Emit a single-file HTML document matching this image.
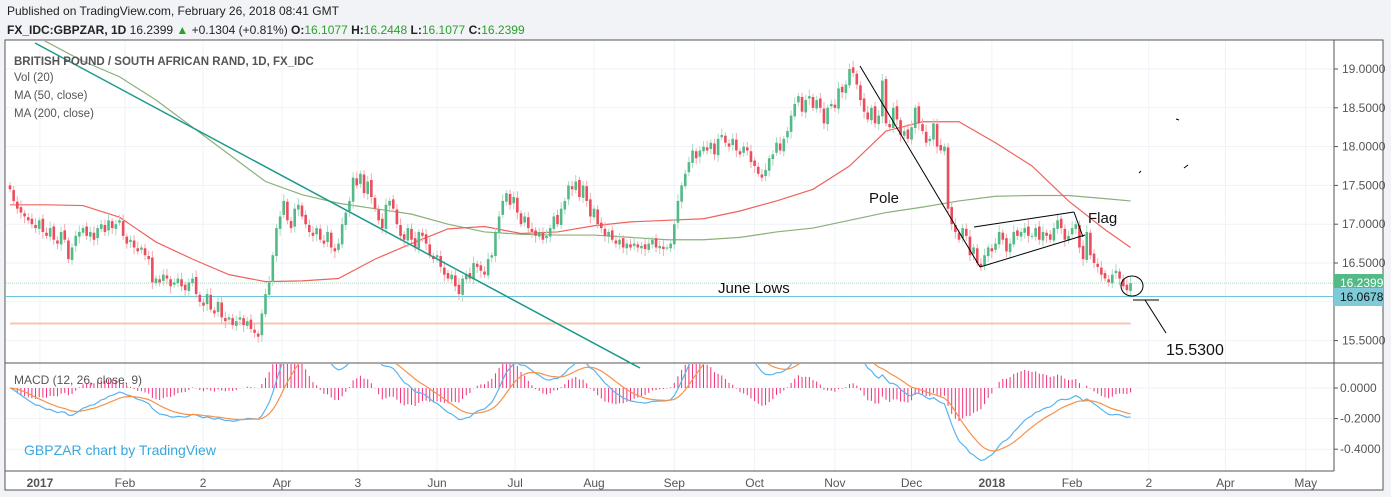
<!DOCTYPE html>
<html><head><meta charset="utf-8"><style>
body{margin:0;width:1391px;height:497px;background:#f1f3f6;font-family:"Liberation Sans",sans-serif;overflow:hidden}
#hdr1{position:absolute;left:7px;top:4px;font-size:12px;color:#222}
#hdr2{position:absolute;left:7px;top:23px;font-size:12px;color:#222}
#hdr2 b{font-weight:bold}.g{color:#2ba02b}
svg{position:absolute;left:0;top:0}
</style></head><body>
<div id="hdr1">Published on TradingView.com, February 26, 2018 08:41 GMT</div>
<div id="hdr2"><b>FX_IDC:GBPZAR, 1D</b> 16.2399 <span class="g">▲</span> +0.1304 (+0.81%) <b>O:</b><span class="g">16.1077</span> <b>H:</b><span class="g">16.2448</span> <b>L:</b><span class="g">16.1077</span> <b>C:</b><span class="g">16.2399</span></div>
<svg id="chart" width="1391" height="497"></svg>
<script>
const closes=[
17.45,17.3,17.2,17.15,17.1,17.05,17.0,16.95,17.05,16.9,
16.85,16.95,16.8,16.75,16.9,16.8,16.55,16.7,16.85,16.9,
16.95,16.85,16.9,16.8,16.95,17.0,16.9,17.05,16.95,17.0,
17.05,16.85,16.75,16.8,16.7,16.65,16.7,16.6,16.55,16.25,
16.3,16.25,16.35,16.3,16.2,16.25,16.3,16.2,16.15,16.25,
16.3,16.1,16.0,15.95,16.1,15.9,15.85,16.0,15.8,15.75,
15.8,15.7,15.75,15.8,15.7,15.75,15.65,15.6,15.55,15.85,
16.1,16.25,16.6,16.95,17.1,17.3,17.05,16.95,17.2,17.25,
17.1,17.0,16.9,16.85,16.95,16.8,16.75,16.9,16.7,16.65,
16.75,17.0,17.15,17.3,17.6,17.5,17.65,17.4,17.55,17.35,
17.2,17.05,16.95,17.25,17.3,17.2,17.0,16.85,16.8,16.95,
16.8,16.7,16.9,16.85,16.75,16.6,16.55,16.6,16.45,16.35,
16.3,16.35,16.2,16.1,16.3,16.35,16.3,16.5,16.45,16.4,
16.35,16.55,16.6,16.9,17.1,17.3,17.4,17.25,17.35,17.15,
17.0,17.1,16.95,16.9,16.85,16.9,16.8,16.85,16.95,17.1,
17.0,17.2,17.3,17.5,17.45,17.55,17.35,17.5,17.3,17.1,
17.2,17.0,16.95,16.85,16.9,16.8,16.75,16.8,16.7,16.75,
16.7,16.75,16.7,16.72,16.68,16.75,16.8,16.7,16.72,16.68,
16.7,16.75,17.0,17.3,17.5,17.65,17.8,17.95,17.85,17.95,
18.0,17.95,18.05,17.9,18.1,18.15,18.05,18.0,18.1,17.95,
17.9,18.0,17.95,17.8,17.75,17.65,17.6,17.7,17.85,17.9,
18.05,17.95,18.1,18.2,18.4,18.55,18.65,18.45,18.6,18.65,
18.5,18.6,18.5,18.3,18.5,18.55,18.5,18.75,18.7,18.8,
19.0,18.95,18.8,18.6,18.45,18.35,18.5,18.3,18.4,18.85,
18.3,18.25,18.5,18.35,18.15,18.2,18.1,18.25,18.5,18.3,
18.2,18.05,18.1,18.3,18.0,17.95,18.0,17.2,17.0,16.9,
16.8,16.95,16.85,16.6,16.7,16.5,16.45,16.6,16.7,16.65,
16.75,16.9,16.8,16.65,16.75,16.9,16.85,16.9,16.95,16.85,
16.85,16.95,16.8,16.9,16.85,16.8,16.95,17.05,16.95,16.8,
16.85,16.95,17.0,16.7,16.55,16.9,16.6,16.5,16.45,16.35,
16.3,16.25,16.35,16.4,16.3,16.2,16.15,16.24];
const ma50=[17.25,17.25,17.24,17.09,16.77,16.55,16.35,16.26,16.27,16.3,16.55,16.75,16.94,16.97,16.88,16.9,16.98,17.03,17.05,17.07,17.17,17.3,17.45,17.75,18.2,18.32,18.32,18.05,17.75,17.3,16.93,16.7];
const ma200=[19.6,19.35,19.1,18.9,18.6,18.25,17.9,17.55,17.38,17.27,17.2,17.13,17.0,16.9,16.87,16.86,16.86,16.83,16.8,16.8,16.83,16.9,16.95,17.05,17.15,17.22,17.3,17.36,17.37,17.37,17.33,17.3];
const priceTicks=[19.0,18.5,18.0,17.5,17.0,16.5,15.5];
const macdTicks=[0,-0.2,-0.4];
const monthLabels=["2017","Feb","2","Apr","3","Jun","Jul","Aug","Sep","Oct","Nov","Dec","2018","Feb","2","Apr","May"];
const monthDays=[8.2,31.5,52.9,74.5,95.3,117,138.4,160,182,204,226,247,269,291,312,333,355];
const lastPrice=16.2399, lowPrice=16.0678, targetPrice=15.53;

const NS="http://www.w3.org/2000/svg",svg=document.getElementById('chart');
const X=i=>10+i*3.65;
const Y=p=>69+(19-p)*77.6;
const YM=v=>388-v*153;
function el(t,a,p){const e=document.createElementNS(NS,t);for(const k in a)e.setAttribute(k,a[k]);(p||svg).appendChild(e);return e;}
el('rect',{x:5,y:40,width:1378,height:450,fill:'#fff',stroke:'#555'});
const clipP=el('clipPath',{id:'cp'});el('rect',{x:6,y:41,width:1328,height:322},clipP);
const clipM=el('clipPath',{id:'cm'});el('rect',{x:6,y:364,width:1328,height:107},clipM);
monthDays.forEach((d,k)=>{const g=el('line',{x1:X(d),x2:X(d),y1:41,y2:471,stroke:'#eef3f8'});

const t=el('text',{x:X(d),y:487,'font-size':12,fill:'#555','text-anchor':'middle','font-weight':(k==0||k==12)?'bold':'normal'});t.textContent=monthLabels[k];
});
priceTicks.concat([16.0]).forEach(p=>el('line',{x1:6,x2:1334,y1:Y(p),y2:Y(p),stroke:'#eef3f8'}));
macdTicks.forEach(v=>el('line',{x1:6,x2:1334,y1:YM(v),y2:YM(v),stroke:'#eef3f8'}));
priceTicks.forEach(p=>{el('line',{x1:1334,x2:1338,y1:Y(p),y2:Y(p),stroke:'#555'});const t=el('text',{x:1342,y:Y(p)+4,'font-size':12,fill:'#555'});t.textContent=p.toFixed(4);
});
macdTicks.forEach(v=>{el('line',{x1:1334,x2:1338,y1:YM(v),y2:YM(v),stroke:'#555'});const t=el('text',{x:1340,y:YM(v)+4,'font-size':12,fill:'#555'});t.textContent=v.toFixed(4);
});
el('line',{x1:1334,x2:1334,y1:40,y2:471,stroke:'#555'});
el('line',{x1:5,x2:1383,y1:363,y2:363,stroke:'#555'});
el('line',{x1:5,x2:1334,y1:471,y2:471,stroke:'#555'});
const gp=el('g',{'clip-path':'url(#cp)'});
el('line',{x1:6,x2:1334,y1:Y(lastPrice),y2:Y(lastPrice),stroke:'#9fd9b8','stroke-dasharray':'1,1'},gp);
const jl=el('line',{x1:6,x2:1334,y1:Y(lowPrice),y2:Y(lowPrice),stroke:'#6cc6dc','stroke-width':1},gp);

el('line',{x1:10,x2:X(closes.length-1),y1:Y(15.72),y2:Y(15.72),stroke:'#f8c6b0','stroke-width':2},gp);
function maPath(arr,col,name){let d='';arr.forEach((v,k)=>{const i=Math.min(k*10,closes.length-1);d+=(k?'L':'M')+X(i)+','+Y(v);});
const p=el('path',{d:d,fill:'none',stroke:col,'stroke-width':1.2},gp);}
maPath(ma200,'#8bb07a','ma-200-line');maPath(ma50,'#f0625d','ma-50-line');
closes.forEach((c,i)=>{const o=i?closes[i-1]+(i%3==0?0.02:-0.01):c+0.05;
const up=c>=o,hi=Math.max(o,c)+0.04+(i%4)*0.015,lo=Math.min(o,c)-0.04-(i%5)*0.012;
const col=up?'#53b987':'#eb4d5c',wc=up?'#a9dcc3':'#f5a6ae';
const w=el('line',{x1:X(i),x2:X(i),y1:Y(hi),y2:Y(lo),stroke:wc},gp);

const b=el('rect',{x:X(i)-1.3,y:Y(Math.max(o,c)),width:2.6,height:Math.max(1,Math.abs(Y(o)-Y(c))),fill:col},gp);
});
el('line',{x1:35,y1:43,x2:640,y2:368,stroke:'#1d9a8a','stroke-width':1.5,});
const ann=[[860,66,980,267],[974,227,1074,212],[1074,212,1083,237],[980,267,1085,235],[1133,300,1159,300],[1145,300,1166,333],[1176,119,1179,120],[1139,173,1141,171],[1184,168,1188,165]];
ann.forEach(a=>el('line',{x1:a[0],y1:a[1],x2:a[2],y2:a[3],stroke:'#000','stroke-width':1}));
el('ellipse',{cx:1132,cy:286,rx:11,ry:10,fill:'none',stroke:'#000'});
[['Pole',869,203,'pole-label'],['Flag',1088,223,'flag-label'],['June Lows',718,293,'june-lows-label'],['15.5300',1166,355,'target-label']].forEach(t=>{
const e=el('text',{x:t[1],y:t[2],'font-size':t[0]=='15.5300'?16:15,fill:'#111'});e.textContent=t[0];});
el('rect',{x:1334,y:274,width:49,height:18,fill:'#53b987',});
let t=el('text',{x:1340,y:287,'font-size':12,fill:'#fff'});t.textContent=lastPrice.toFixed(4);
el('rect',{x:1334,y:288,width:49,height:18,fill:'#7ecad9',});
t=el('text',{x:1340,y:301,'font-size':12,fill:'#111'});t.textContent=lowPrice.toFixed(4);
[['BRITISH POUND / SOUTH AFRICAN RAND, 1D, FX_IDC',65,'#555','bold'],['Vol (20)',81,'#555','normal'],['MA (50, close)',99,'#555','normal'],['MA (200, close)',117,'#555','normal']].forEach(l=>{
const e=el('text',{x:14,y:l[1],'font-size':11.5,fill:l[2],'font-weight':l[3]});e.textContent=l[0];});
function ema(a,n){const k=2/(n+1);let r=[],p=a[0];a.forEach((v,i)=>{p=i?v*k+p*(1-k):v;r.push(p);});return r;}
const e12=ema(closes,12),e26=ema(closes,26),macd=e12.map((v,i)=>v-e26[i]),sig=ema(macd,9);
const gm=el('g',{'clip-path':'url(#cm)'});
macd.forEach((v,i)=>{const h=(v-sig[i])*1.4;const r=el('line',{x1:X(i),x2:X(i),y1:YM(0),y2:YM(h),stroke:'#f0307a','stroke-width':1},gm);
});
function line(arr,col,name){const p=el('path',{d:arr.map((v,i)=>(i?'L':'M')+X(i)+','+YM(v)).join(''),fill:'none',stroke:col,'stroke-width':1.2},gm);
}
line(macd,'#5ab4f0','macd-line');line(sig,'#f5924a','signal-line');
t=el('text',{x:14,y:384,'font-size':12,fill:'#555'});t.textContent='MACD (12, 26, close, 9)';

t=el('text',{x:24,y:455,'font-size':14,fill:'#3aa6dd'});t.textContent='GBPZAR chart by TradingView';

</script>
</body></html>
